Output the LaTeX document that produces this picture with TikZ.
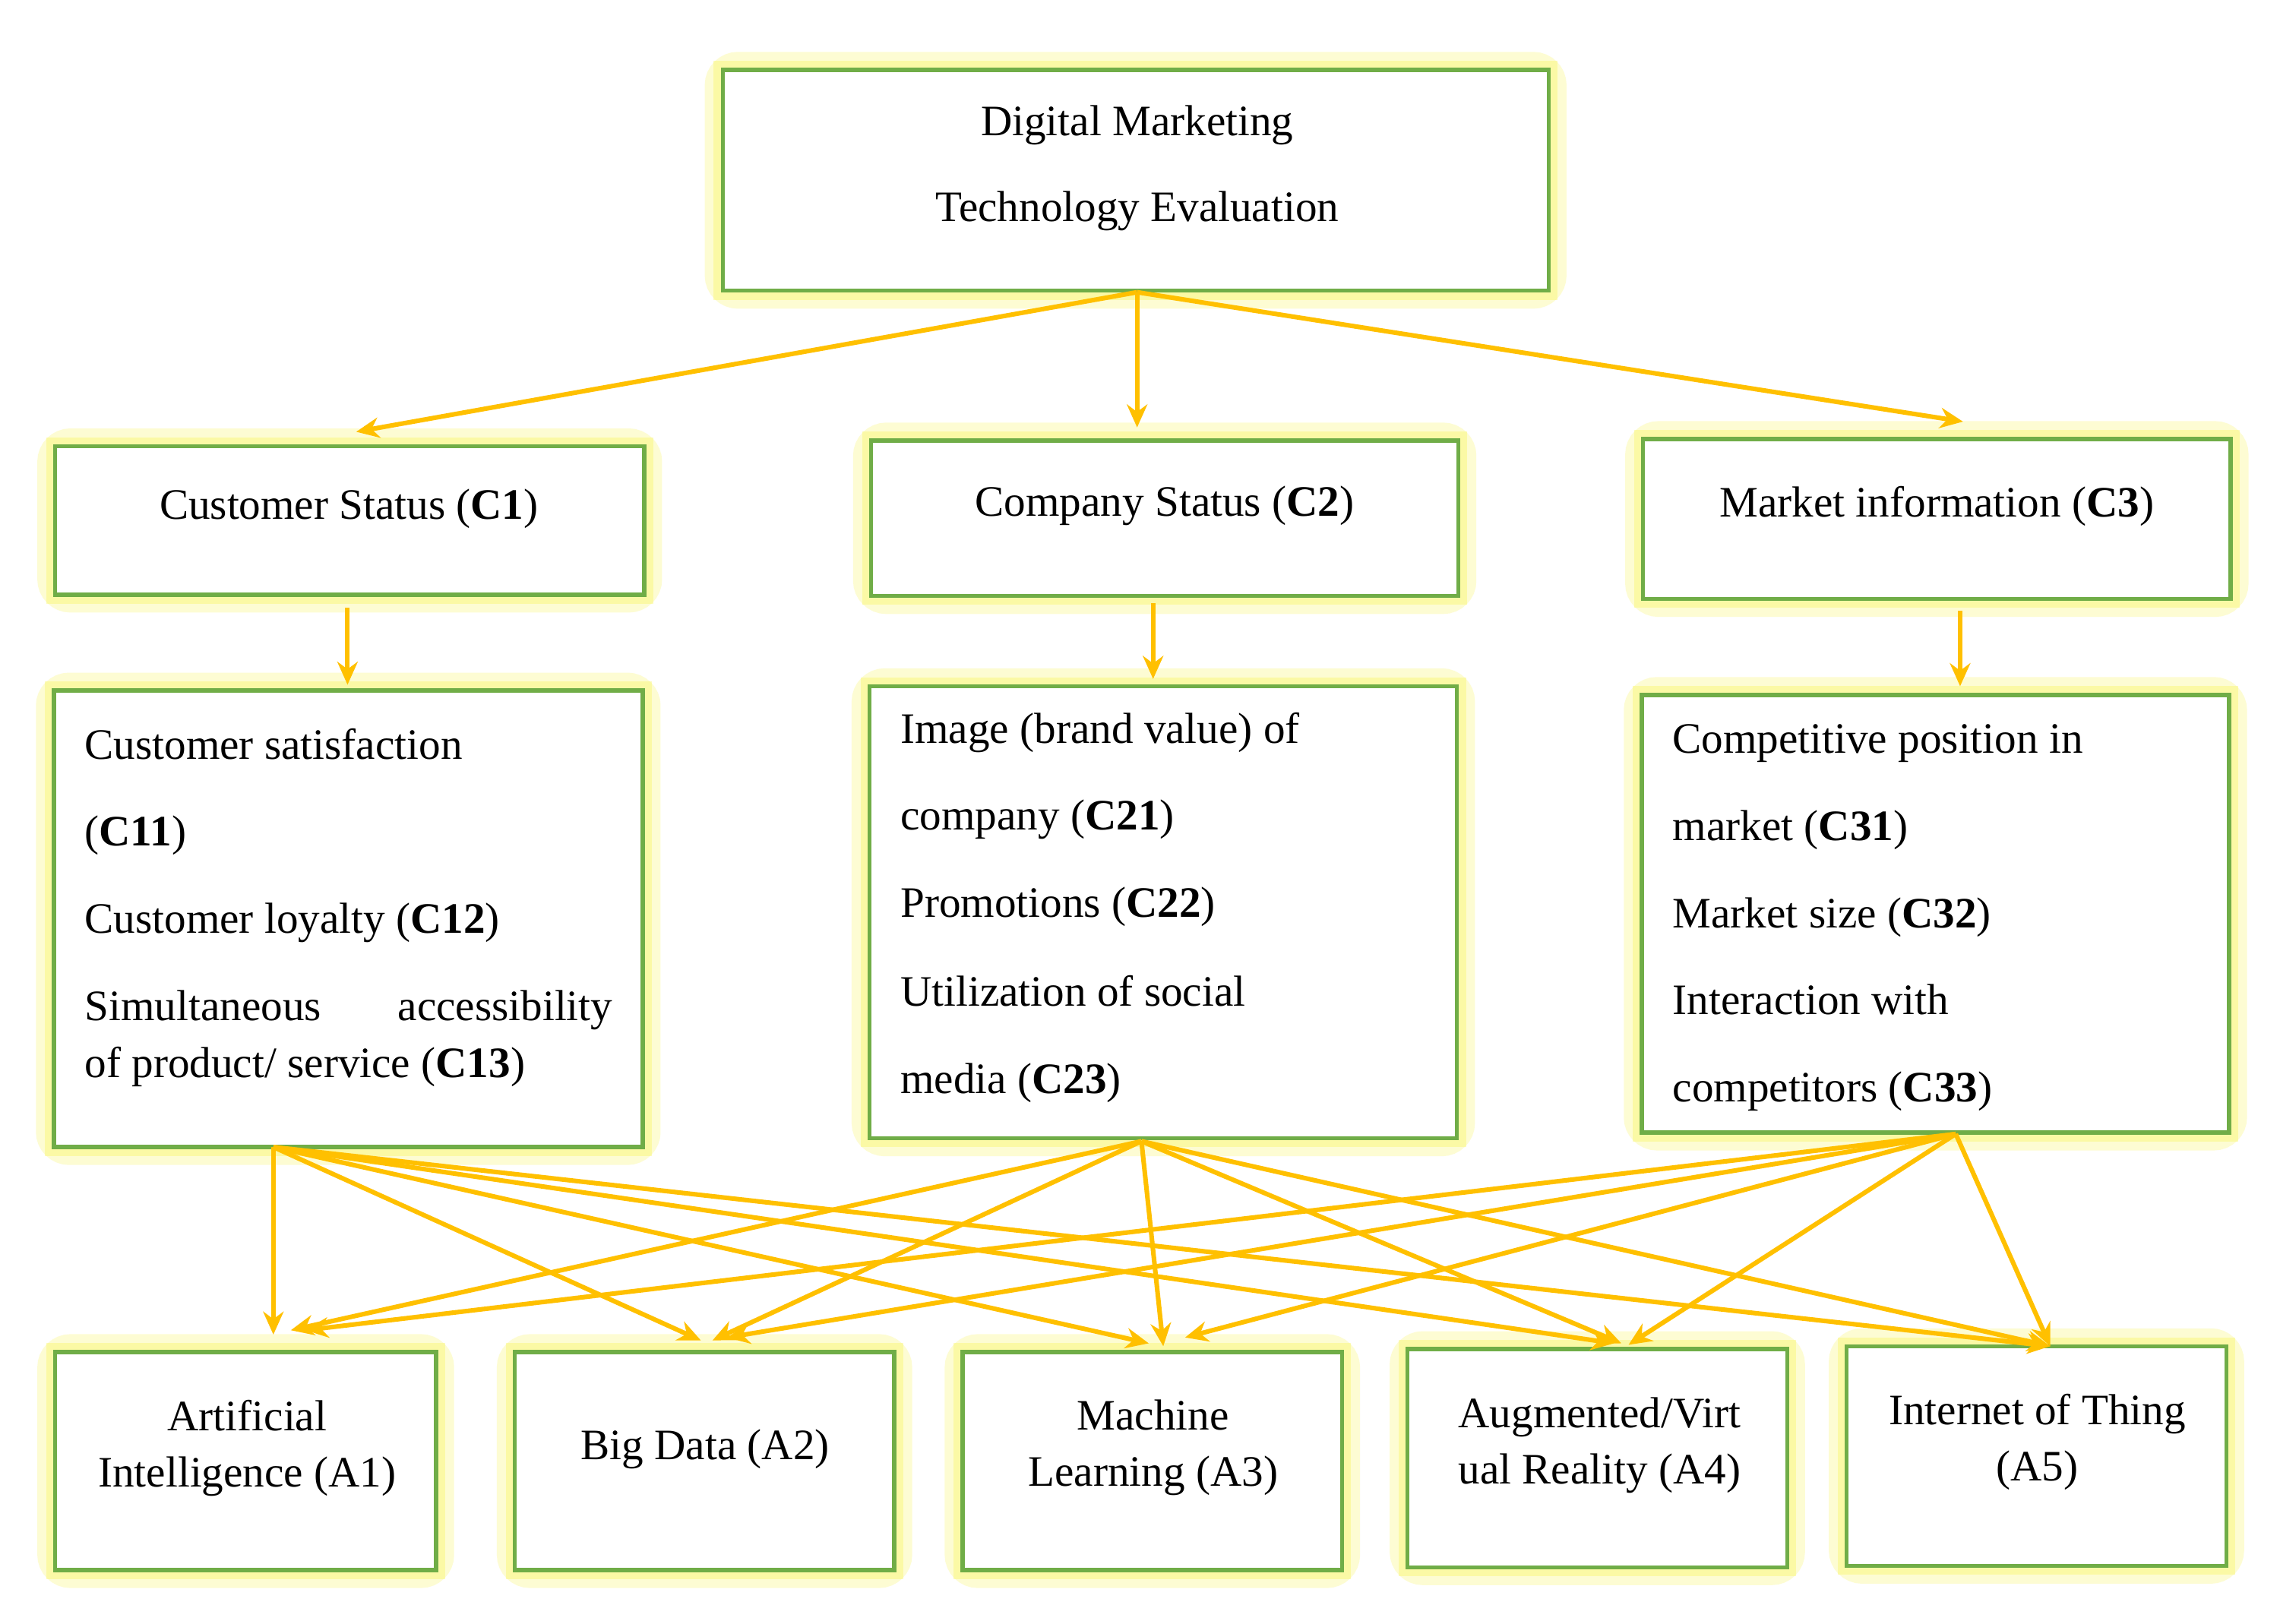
\documentclass[tikz,border=0pt]{standalone}
\usepackage{fontspec}
\setmainfont{Liberation Serif}
\usetikzlibrary{arrows.meta}
\begin{document}
\begin{tikzpicture}[x=0.02cm,y=-0.02cm,
  box/.style={draw=boxgreen,line width=1.6pt,fill=white},
  glow/.style={draw=glowy,line width=14pt,opacity=0.25,rounded corners=6pt},
  arr/.style={draw=arrowc,line width=1.8pt,-{Stealth[length=9pt,width=8pt]}},
  t/.style={font=\fontsize{17}{20}\selectfont,inner sep=0pt},
  tl/.style={t,anchor=base west}]
\definecolor{boxgreen}{RGB}{112,173,71}
\definecolor{glowy}{RGB}{250,245,80}
\definecolor{arrowc}{RGB}{255,192,0}
\useasboundingbox (0,0) rectangle (1568,1117);
\fill[white] (0,0) rectangle (1568,1117);
\foreach \n/\a/\b/\c/\d in {top/497/48/1065/200, c1/38/307/443/409, c2/599/303/1003/410, c3/1130/302/1534/412,
  s1/37/475/442/789, s2/598/472/1002/783, s3/1129/478/1533/779,
  a1/38/930/300/1080, a2/354/930/615/1080, a3/662/930/923/1080, a4/968/928/1229/1078, a5/1270/926/1531/1077}{
  \draw[glow] (\a,\b) rectangle (\c,\d);
  \draw[glowy,line width=7pt,opacity=0.35] (\a,\b) rectangle (\c,\d);
  \draw[box] (\a,\b) rectangle (\c,\d);
  \coordinate (\n) at ({(\a+\c)/2},{(\b+\d)/2});
}
\node[t] (tt1) at (782,86) {Digital Marketing};
\node[t] (tt2) at (782,145) {Technology Evaluation};
\node[t] (c1t) at (240,350) {Customer Status (\textbf{C1})};
\node[t] (c2t) at (801,348) {Company Status (\textbf{C2})};
\node[t] (c3t) at (1332,348) {Market information (\textbf{C3})};
\node[tl] (s11) at (58,522) {Customer satisfaction};
\node[tl] (s12) at (58,582) {(\textbf{C11})};
\node[tl] (s13) at (58,642) {Customer loyalty (\textbf{C12})};
\node[tl] (s14) at (58,702) {\makebox[7.26cm][s]{Simultaneous\hfill accessibility}};
\node[tl] (s15) at (58,741) {of product/ service (\textbf{C13})};
\node[tl] (s21) at (619,511) {Image (brand value) of};
\node[tl] (s22) at (619,571) {company (\textbf{C21})};
\node[tl] (s23) at (619,631) {Promotions (\textbf{C22})};
\node[tl] (s24) at (619,692) {Utilization of social};
\node[tl] (s25) at (619,752) {media (\textbf{C23})};
\node[tl] (s31) at (1150,518) {Competitive position in};
\node[tl] (s32) at (1150,578) {market (\textbf{C31})};
\node[tl] (s33) at (1150,638) {Market size (\textbf{C32})};
\node[tl] (s34) at (1150,698) {Interaction with};
\node[tl] (s35) at (1150,758) {competitors (\textbf{C33})};
\node[t,align=center] (a1t) at (170,996) {Artificial\\[2pt]Intelligence (A1)};
\node[t] (a2t) at (485,997) {Big Data (A2)};
\node[t,align=center] (a3t) at (793,996) {Machine\\[2pt]Learning (A3)};
\node[t,align=center] (a4t) at (1100,994) {Augmented/Virt\\[2pt]ual Reality (A4)};
\node[t,align=center] (a5t) at (1401,992) {Internet of Thing\\[2pt](A5)};
\coordinate (p0) at (782,201);
\coordinate (q1) at (245,297); \coordinate (q2) at (782,294); \coordinate (q3) at (1350,290);
\draw[arr] (p0) -- (q1); \draw[arr] (p0) -- (q2); \draw[arr] (p0) -- (q3);
\coordinate (d1) at (239,418); \coordinate (e1) at (239,471);
\coordinate (d2) at (793,415); \coordinate (e2) at (793,467);
\coordinate (d3) at (1348,420); \coordinate (e3) at (1348,472);
\draw[arr] (d1) -- (e1); \draw[arr] (d2) -- (e2); \draw[arr] (d3) -- (e3);
\coordinate (f1) at (188,789); \coordinate (f2) at (785,785); \coordinate (f3) at (1345,780);
\foreach \s/\x/\y in {f1/188/918, f1/482/922, f1/790/924, f1/1110/924, f1/1410/926,
  f2/200/915, f2/490/922, f2/800/926, f2/1115/924, f2/1410/926,
  f3/210/915, f3/500/920, f3/815/920, f3/1120/925, f3/1410/926}{
  \draw[arr] (\s) -- (\x,\y);
}
\end{tikzpicture}
\end{document}
